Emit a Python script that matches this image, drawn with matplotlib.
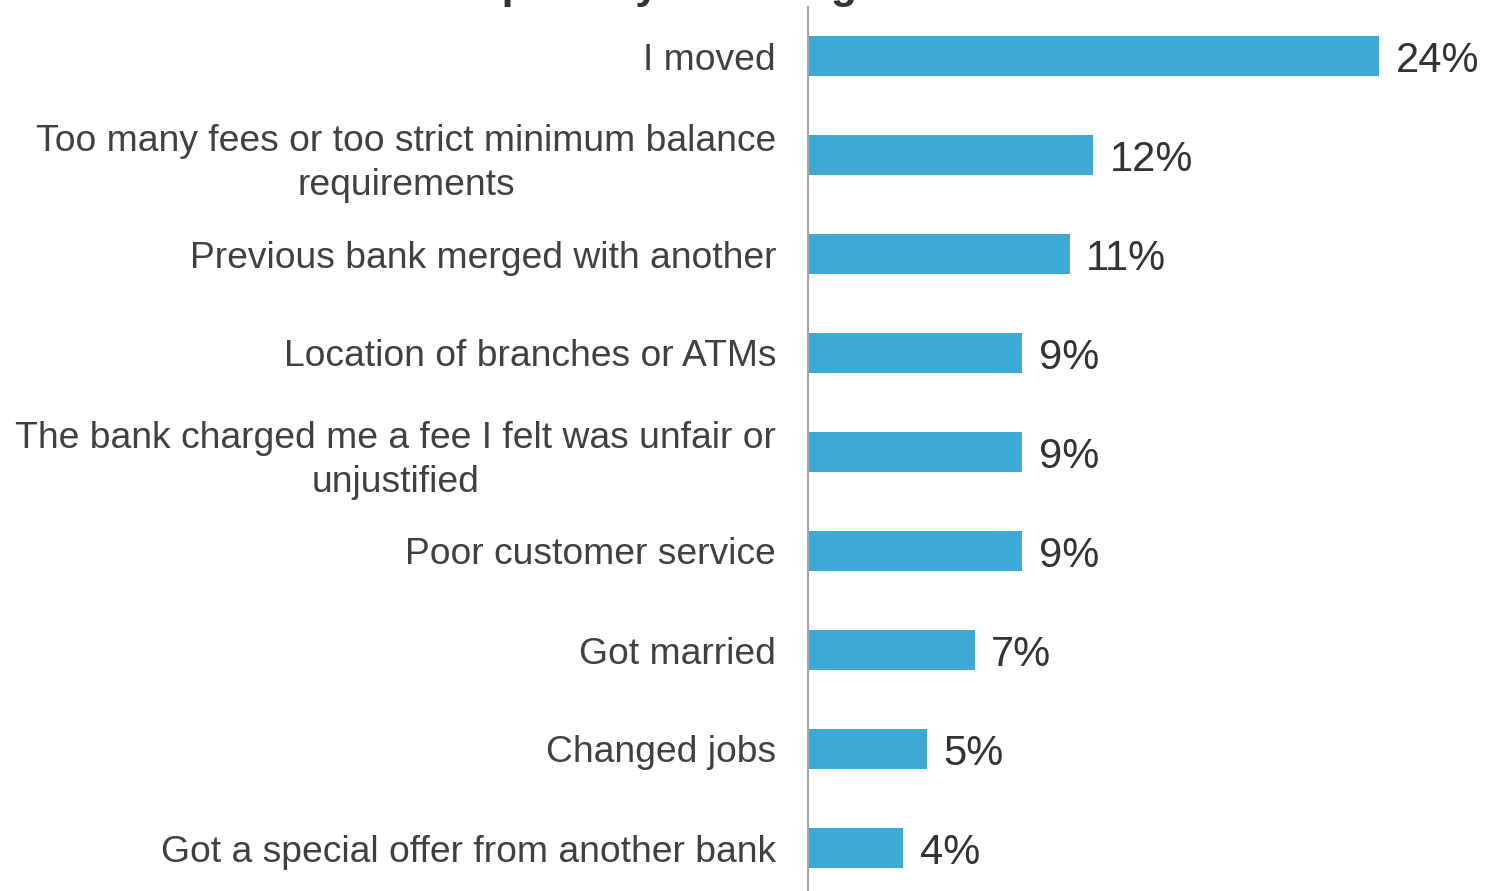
import numpy as np
import matplotlib
matplotlib.use("Agg")
from matplotlib import pyplot as plt

plt.rcParams['font.family'] = ['Liberation Sans', 'DejaVu Sans']

# Reasons for leaving, top to bottom
reasons = [
    "I moved",
    "Too many fees or too strict minimum balance\nrequirements",
    "Previous bank merged with another",
    "Location of branches or ATMs",
    "The bank charged me a fee I felt was unfair or\nunjustified",
    "Poor customer service",
    "Got married",
    "Changed jobs",
    "Got a special offer from another bank",
]
shares = [24, 12, 11, 9, 9, 9, 7, 5, 4]  # percent of respondents

W, H = 1486, 891
fig = plt.figure(figsize=(W / 100, H / 100), dpi=100)

# axes spans from the spine to the right edge, rows 99 px apart
left_px, top_px = 808, 7
ax = fig.add_axes([left_px / W, 0, 1 - left_px / W, 1 - top_px / H])

ypos = np.arange(len(reasons))
ax.barh(ypos, shares, height=0.4, color='#3DA9D6', zorder=2)

ax.set_xlim(0, 28.5)
ax.set_ylim((H - 56) / 99, (top_px - 56) / 99)

for y, v in zip(ypos, shares):
    ax.annotate(f"{v}%", (v, y), xytext=(12, -11.5), textcoords='offset points',
                va='baseline', ha='left', fontsize=30, color='#333333')

ax.set_yticks(ypos)
ax.set_yticklabels(reasons, fontsize=26.8, color='#404040',
                   multialignment='center', linespacing=1.35)
ax.tick_params(axis='y', length=0, pad=23)
ax.set_xticks([])

for side in ['top', 'right', 'bottom']:
    ax.spines[side].set_visible(False)
ax.spines['left'].set_color('#A6A6A6')
ax.spines['left'].set_linewidth(1.5)

# heading sits mostly above the top edge
fig.text(65 / W, 1 + 2.5 / H, "Main reason to close primary checking account",
         fontsize=31, fontweight='bold', color='#333333',
         ha='left', va='baseline')

fig.savefig("out.png", dpi=100)
